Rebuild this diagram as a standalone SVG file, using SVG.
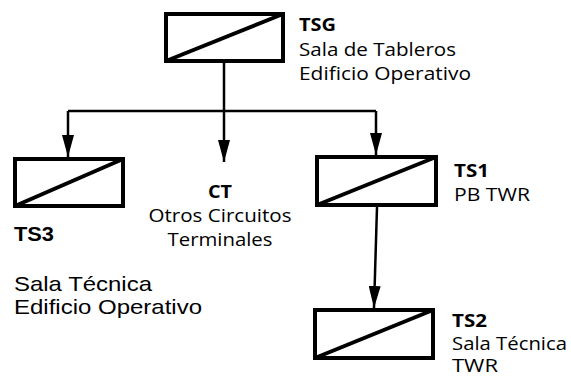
<svg xmlns="http://www.w3.org/2000/svg" width="571" height="376" viewBox="0 0 571 376">
<style>
.box{fill:#fff;stroke:#000;stroke-width:4}
.diag{stroke:#000;stroke-width:4}
.wire{fill:none;stroke:#000;stroke-width:2.5}
.c{font-family:"Open Sans","Noto Sans",sans-serif;font-size:18px;fill:#000}
.cb{font-weight:bold}
.a{font-family:"Liberation Sans",Arial,sans-serif;font-size:21px;fill:#000}
</style>
<defs>
<marker id="ah" markerUnits="userSpaceOnUse" viewBox="0 0 22 12" refX="22" refY="6" markerWidth="22" markerHeight="12" orient="auto">
<path d="M0,0 L22,6 L0,12 z" fill="#000"/>
</marker>
</defs>
<g id="connectors">
<path class="wire" d="M68,111 H376"/>
<path class="wire" d="M224,62 V162" marker-end="url(#ah)"/>
<path class="wire" d="M68,111 V157" marker-end="url(#ah)"/>
<path class="wire" d="M376,111 V155" marker-end="url(#ah)"/>
<path class="wire" d="M377,207 L374,308" marker-end="url(#ah)"/>
</g>
<g id="TSG">
<rect class="box" x="166" y="14" width="117" height="47"/>
<line class="diag" x1="166" y1="61" x2="283" y2="14"/>
<text class="c cb" x="299" y="31" textLength="37" lengthAdjust="spacingAndGlyphs">TSG</text>
<text class="c" x="299" y="55.5" textLength="157" lengthAdjust="spacingAndGlyphs">Sala de Tableros</text>
<text class="c" x="299" y="80" textLength="172" lengthAdjust="spacingAndGlyphs">Edificio Operativo</text>
</g>
<g id="TS3">
<rect class="box" x="15" y="159" width="108" height="47"/>
<line class="diag" x1="15" y1="206" x2="123" y2="159"/>
<text class="a" x="14" y="241" font-weight="bold" textLength="40" lengthAdjust="spacingAndGlyphs">TS3</text>
<text class="a" x="14" y="291" textLength="138" lengthAdjust="spacingAndGlyphs">Sala Técnica</text>
<text class="a" x="14" y="314" textLength="188" lengthAdjust="spacingAndGlyphs">Edificio Operativo</text>
</g>
<g id="CT">
<text class="c cb" x="220" y="198" text-anchor="middle" textLength="24" lengthAdjust="spacingAndGlyphs">CT</text>
<text class="c" x="220" y="222" text-anchor="middle" textLength="143" lengthAdjust="spacingAndGlyphs">Otros Circuitos</text>
<text class="c" x="220" y="246" text-anchor="middle" textLength="105" lengthAdjust="spacingAndGlyphs">Terminales</text>
</g>
<g id="TS1">
<rect class="box" x="317" y="157" width="119" height="48"/>
<line class="diag" x1="317" y1="205" x2="436" y2="157"/>
<text class="c cb" x="454" y="177" textLength="35" lengthAdjust="spacingAndGlyphs">TS1</text>
<text class="c" x="454" y="201" textLength="76" lengthAdjust="spacingAndGlyphs">PB TWR</text>
</g>
<g id="TS2">
<rect class="box" x="315" y="310" width="118" height="48"/>
<line class="diag" x1="315" y1="358" x2="433" y2="310"/>
<text class="c cb" x="452" y="327" textLength="35" lengthAdjust="spacingAndGlyphs">TS2</text>
<text class="c" x="452" y="350" textLength="115" lengthAdjust="spacingAndGlyphs">Sala Técnica</text>
<text class="c" x="452" y="372" textLength="46" lengthAdjust="spacingAndGlyphs">TWR</text>
</g>
</svg>
